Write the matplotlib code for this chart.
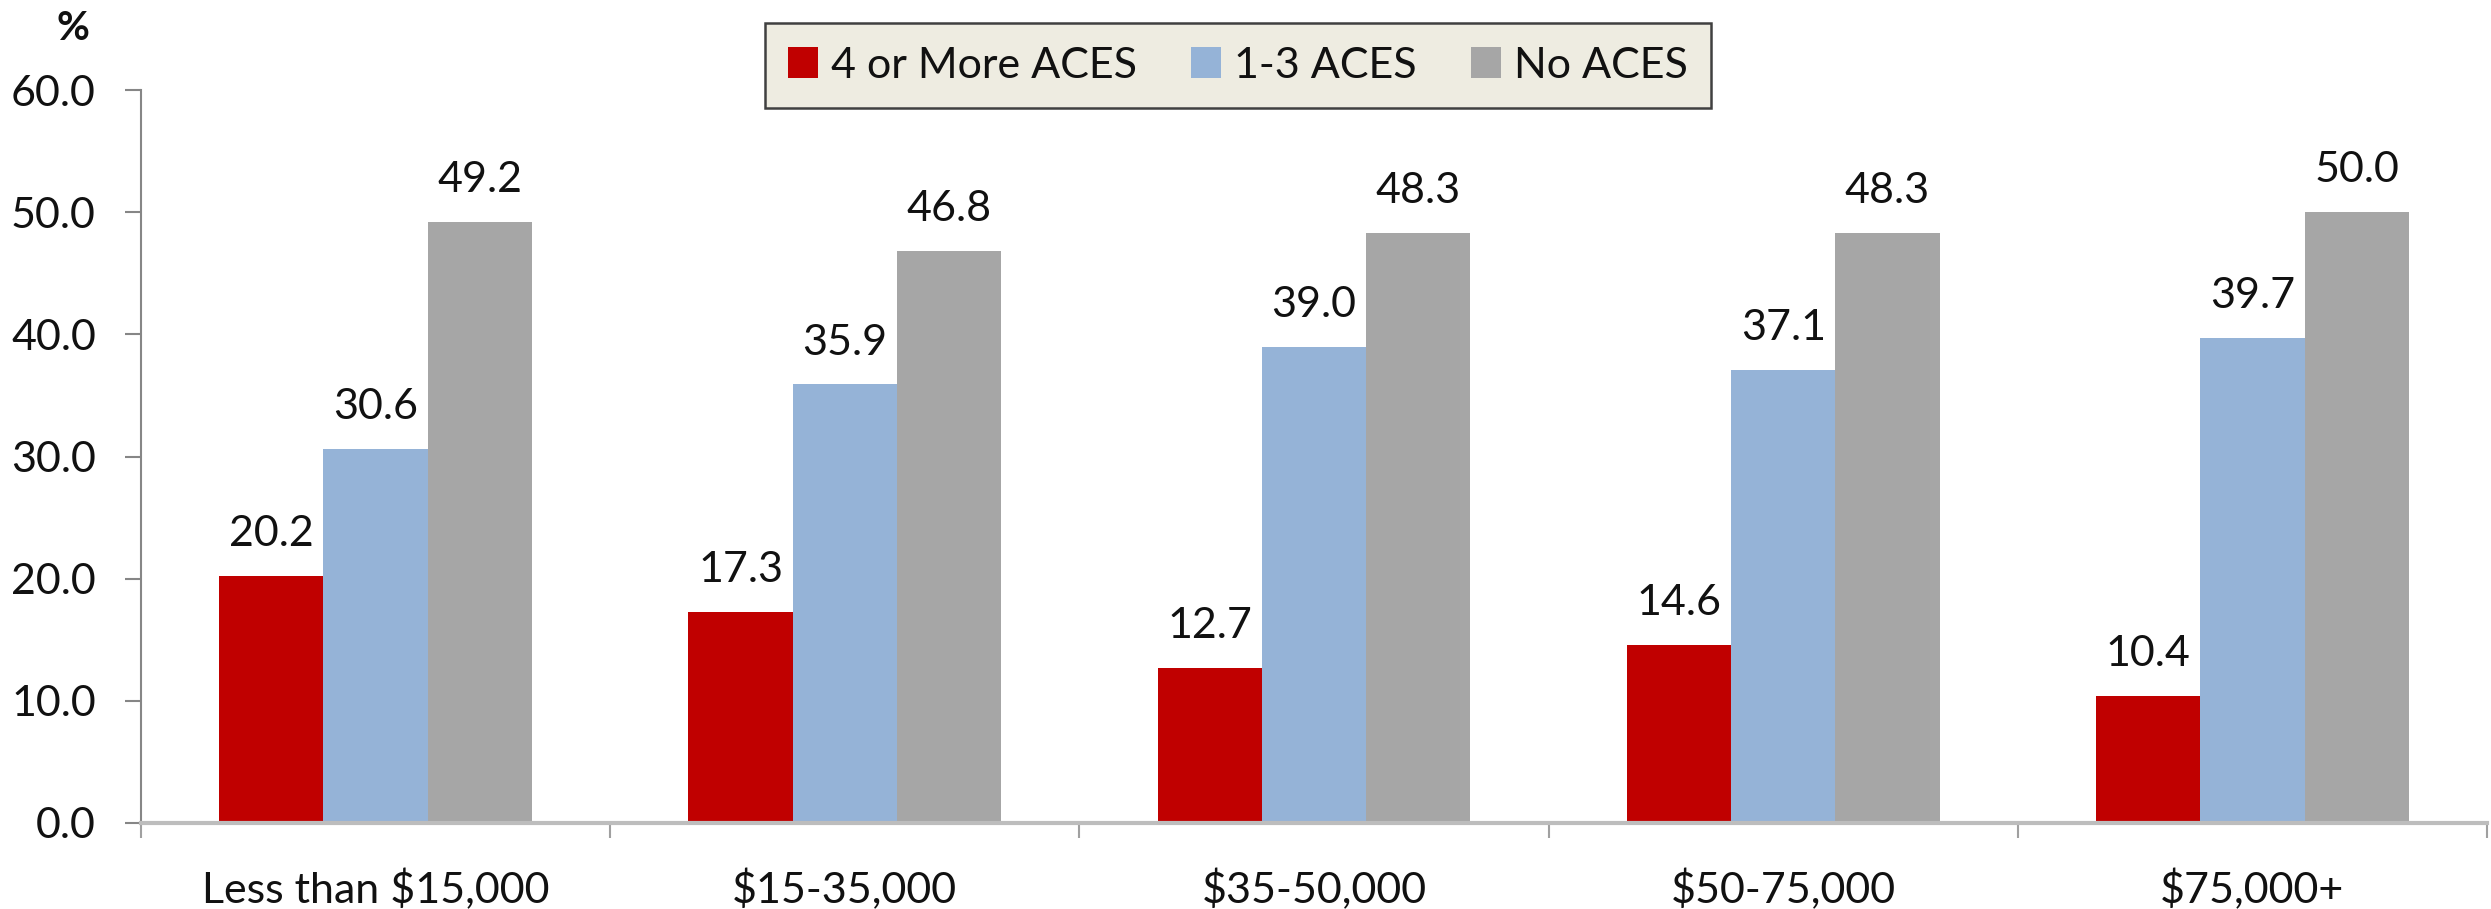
import numpy as np
import matplotlib
matplotlib.use("Agg")
import matplotlib.pyplot as plt
from matplotlib.ticker import FixedLocator, FormatStrFormatter

plt.rcParams['font.family'] = ['Lato', 'DejaVu Sans']

categories = ["Less than $15,000", "$15-35,000", "$35-50,000", "$50-75,000", "$75,000+"]
series_names = ["4 or More ACES", "1-3 ACES", "No ACES"]
aces_4plus = [20.2, 17.3, 12.7, 14.6, 10.4]
aces_1to3 = [30.6, 35.9, 39.0, 37.1, 39.7]
aces_none = [49.2, 46.8, 48.3, 48.3, 50.0]
y_ticks = [0, 10, 20, 30, 40, 50, 60]

colors = ["#C00000", "#95B3D7", "#A6A6A6"]
text_color = "#111111"
fs = 31

W, H = 2491, 909
fig = plt.figure(figsize=(W / 100, H / 100), dpi=100)
ax = fig.add_axes([141 / W, 1 - 823 / H, (2487 - 141) / W, (823 - 90) / H])

x = np.arange(len(categories))
bar_w = 1 / 4.5
series = [aces_4plus, aces_1to3, aces_none]
for i, (vals, name, col) in enumerate(zip(series, series_names, colors)):
    pos = x + (i - 1) * bar_w
    bars = ax.bar(pos, vals, width=bar_w, color=col, label=name, zorder=2)
    for b, v in zip(bars, vals):
        ax.annotate(f"{v:.1f}", (b.get_x() + b.get_width() / 2, v),
                    xytext=(0, 21.5), textcoords="offset points",
                    ha="center", va="baseline", fontsize=fs, color=text_color)

ax.set_xlim(-0.5, len(categories) - 0.5)
ax.set_ylim(0, 60)

# y axis
ax.set_yticks(y_ticks)
ax.yaxis.set_major_formatter(FormatStrFormatter("%.1f"))
ax.tick_params(axis="y", direction="out", length=11.5, width=1.5,
               color="#868686", pad=21, labelsize=fs, labelcolor=text_color)

# x axis: labels at centers, tick marks at category boundaries
ax.set_xticks(x)
ax.set_xticklabels(categories)
ax.xaxis.set_minor_locator(FixedLocator(np.arange(-0.5, len(categories), 1.0)))
ax.tick_params(axis="x", which="major", length=0, pad=33, labelsize=fs,
               labelcolor=text_color)
ax.tick_params(axis="x", which="minor", direction="out", length=11,
               width=1.5, color="#A0A0A0")

for s in ["top", "right"]:
    ax.spines[s].set_visible(False)
ax.spines["left"].set_color("#868686")
ax.spines["left"].set_linewidth(1.5)
ax.spines["bottom"].set_color("#BDBDBD")
ax.spines["bottom"].set_linewidth(3)
ax.spines["bottom"].set_zorder(3)

fig.text(73 / W, 1 - 28 / H, "%", ha="center", va="center",
         fontsize=29, fontweight="bold", color=text_color)

leg = fig.legend(loc="center", bbox_to_anchor=(1238 / W, 1 - 65.5 / H),
                 ncol=3, fontsize=fs, frameon=True, fancybox=False,
                 shadow=False, handlelength=0.7, handleheight=0.7,
                 handletextpad=0.3, columnspacing=1.25, borderpad=0.55,
                 borderaxespad=0)
frame = leg.get_frame()
frame.set_facecolor("#EEECE1")
frame.set_edgecolor("#404040")
frame.set_linewidth(1.8)
frame.set_alpha(1)
for t in leg.get_texts():
    t.set_color(text_color)

fig.savefig("out.png", dpi=100)
